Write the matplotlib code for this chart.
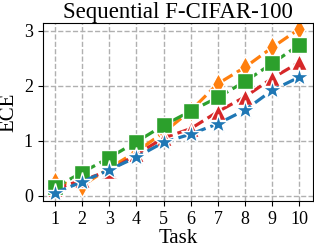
import numpy as np
import matplotlib.pyplot as plt

plt.rcParams['font.family'] = ['Liberation Serif', 'DejaVu Serif']

tasks = np.arange(1, 11)
ece_orange = [0.25, 0.18, 0.50, 0.80, 1.15, 1.55, 2.04, 2.34, 2.70, 3.04]
ece_red = [0.12, 0.28, 0.45, 0.75, 1.05, 1.22, 1.53, 1.80, 2.14, 2.43]
ece_green = [0.15, 0.42, 0.69, 0.98, 1.28, 1.54, 1.79, 2.08, 2.41, 2.75]
ece_blue = [0.05, 0.25, 0.47, 0.70, 0.97, 1.12, 1.31, 1.56, 1.92, 2.16]

fig, ax = plt.subplots(figsize=(3.14, 2.47), dpi=100)

ax.plot(tasks, ece_orange, '--', color='tab:orange', marker='d', ms=11,
        mec='white', mew=1, lw=2.3)
ax.plot(tasks, ece_red, '--', color='tab:red', marker='^', ms=11,
        mec='white', mew=1, lw=2.3)
ax.plot(tasks, ece_green, '--', color='tab:green', marker='s', ms=11,
        mec='white', mew=1, lw=2.3)
ax.plot(tasks, ece_blue, '--', color='tab:blue', marker='*', ms=15,
        mec='white', mew=1, lw=2.3)

ax.set_xlim(0.55, 10.5)
ax.set_ylim(-0.1, 3.15)
ax.set_xticks(tasks)
ax.set_yticks([0, 1, 2, 3])
ax.grid(True, ls='--', color='#b0b0b0', lw=1)
ax.set_axisbelow(True)
ax.tick_params(labelsize=13)
ax.set_title('Sequential F-CIFAR-100', fontsize=16.5, pad=3)
ax.set_xlabel('Task', fontsize=15, labelpad=1)
ax.set_ylabel('ECE', fontsize=15, labelpad=4)

plt.subplots_adjust(left=0.136, right=0.997, top=0.908, bottom=0.186)
plt.savefig('out.png')
